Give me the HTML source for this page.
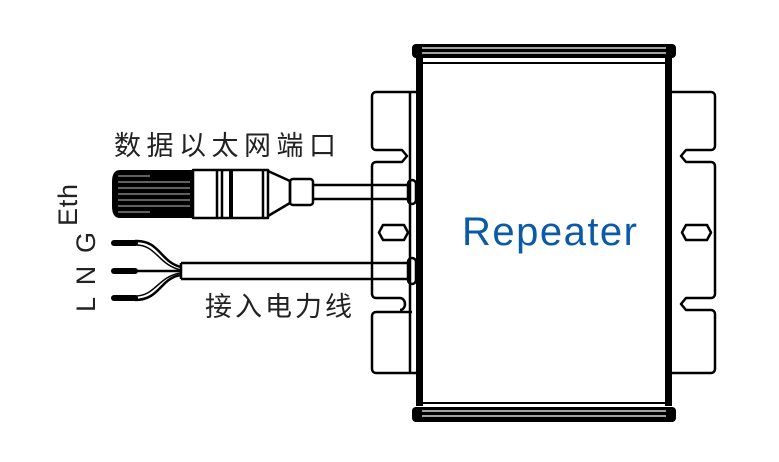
<!DOCTYPE html>
<html><head><meta charset="utf-8"><style>
html,body{margin:0;padding:0;background:#fff;}
svg{display:block;}
</style></head><body>
<svg width="779" height="462" viewBox="0 0 779 462" xmlns="http://www.w3.org/2000/svg">
<g fill="none" stroke="#000" stroke-width="2.5" stroke-linejoin="round">
<!-- left flange -->
<path d="M416 92 H376 a4 4 0 0 0 -4 4 V146 a4 4 0 0 0 4 4 H402 l5 6 l-5 6 H376 a4 4 0 0 0 -4 4 V294 a4 4 0 0 0 4 4 H400 a5 6 0 0 1 0 12 M412 312 H376 a4 4 0 0 0 -4 4 V369 a4 4 0 0 0 4 4 H416"/>
<line x1="410" y1="92" x2="410" y2="373"/>
<path d="M383 225 H404 l4 7.5 l-4 7.5 H383 l-4 -7.5 z"/>
<!-- right flange -->
<path d="M672 92 H711 a4 4 0 0 1 4 4 V146 a4 4 0 0 1 -4 4 H686 l-5 6 l5 6 H711 a4 4 0 0 1 4 4 V294 a4 4 0 0 1 -4 4 H686 l-5 6 l5 6 H711 a4 4 0 0 1 4 4 V369 a4 4 0 0 1 -4 4 H672"/>
<path d="M686 225 H707 l4 7.5 l-4 7.5 H686 l-4 -7.5 z"/>
<!-- ethernet cable -->
<line x1="313" y1="185" x2="410" y2="185"/>
<line x1="313" y1="199" x2="410" y2="199"/>
<rect x="408" y="180" width="8" height="24" rx="4"/>
<!-- power cable -->
<line x1="181" y1="263" x2="410" y2="263"/>
<line x1="181" y1="279" x2="410" y2="279"/>
<line x1="181" y1="263" x2="181" y2="279"/>
<rect x="408" y="258" width="8" height="26" rx="4"/>
<!-- connector -->
<rect x="290" y="179" width="23" height="26" rx="3"/>
<path d="M268 171 L290 181 V203 L268 216"/>
<rect x="193" y="170" width="75" height="48"/>
<line x1="217" y1="170" x2="217" y2="218"/>
<line x1="222" y1="170" x2="222" y2="218"/>
<line x1="263" y1="170" x2="263" y2="218"/>
<!-- wires -->
<path d="M135 241 C160 240 160 262 181 267"/>
<path d="M135 245 C156 244 158 265 181 270" stroke-width="1.5"/>
<path d="M135 271 H181" />
<path d="M135 300 C160 300 160 278 181 275"/>
<path d="M135 296 C156 296 158 276 181 273" stroke-width="1.5"/>
</g>
<!-- knurled connector -->
<path d="M120 170 H193 V218 H120 Q112 218 112 206 V182 Q112 170 120 170 Z" fill="#000"/>
<g stroke="#fff" stroke-width="0.8">
<line x1="118" y1="176" x2="150" y2="176"/><line x1="118" y1="182" x2="190" y2="182"/>
<line x1="118" y1="188" x2="190" y2="188"/><line x1="118" y1="194" x2="190" y2="194"/>
<line x1="118" y1="200" x2="190" y2="200"/><line x1="118" y1="206" x2="190" y2="206"/>
<line x1="118" y1="212" x2="150" y2="212"/>
</g>
<rect x="229" y="170" width="4" height="48" fill="#000"/>
<!-- wire tips -->
<g stroke="#000" stroke-width="6" stroke-linecap="round">
<line x1="114" y1="243" x2="135" y2="243"/>
<line x1="114" y1="271" x2="135" y2="271"/>
<line x1="114" y1="298" x2="135" y2="298"/>
</g>
<!-- main box -->
<rect x="416" y="56" width="7" height="350" fill="#000"/>
<rect x="665" y="56" width="7" height="350" fill="#000"/>
<rect x="412" y="44" width="264" height="14" rx="4" fill="#000"/>
<line x1="422" y1="48" x2="666" y2="48" stroke="#fff" stroke-width="1.2"/>
<line x1="422" y1="53" x2="666" y2="53" stroke="#fff" stroke-width="1.2"/>
<line x1="420" y1="63" x2="668" y2="63" stroke="#000" stroke-width="2"/>
<line x1="420" y1="403" x2="668" y2="403" stroke="#000" stroke-width="2"/>
<rect x="412" y="407" width="264" height="15" rx="4" fill="#000"/>
<line x1="422" y1="411" x2="666" y2="411" stroke="#fff" stroke-width="1.2"/>
<line x1="422" y1="416" x2="666" y2="416" stroke="#fff" stroke-width="1.2"/>
<!-- text -->
<text x="462" y="245" font-family="Liberation Sans, sans-serif" font-size="40" fill="#0a5aa8" textLength="175">Repeater</text>
<text x="114" y="155" font-family="Liberation Sans, Noto Sans CJK SC, sans-serif" font-size="27" fill="#222" textLength="222">数据以太网端口</text>
<text x="205" y="316" font-family="Liberation Sans, Noto Sans CJK SC, sans-serif" font-size="27" fill="#222" textLength="147">接入电力线</text>
<text transform="translate(77,226) rotate(-90)" font-family="Liberation Sans, sans-serif" font-size="27" fill="#222" textLength="42">Eth</text>
<text transform="translate(95,312) rotate(-90)" font-family="Liberation Sans, sans-serif" font-size="27" fill="#222" textLength="80">L N G</text>
</svg>
</body></html>
